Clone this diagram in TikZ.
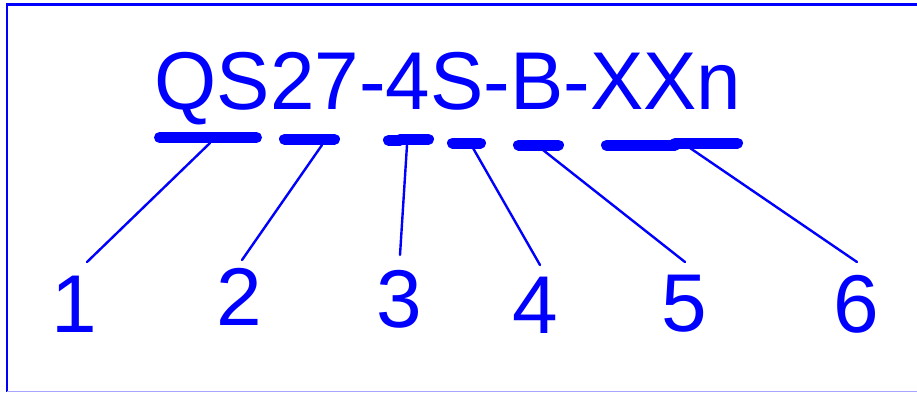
\documentclass[tikz,border=0pt]{standalone}
\usepackage{fontspec}
\setmainfont{Liberation Sans}
\begin{document}
\begin{tikzpicture}[x=1pt,y=-1pt,
  code/.style={text=blue, font=\fontsize{82}{90}\selectfont, inner sep=0pt, anchor=base},
  bar/.style={draw=blue, line width=11pt, line cap=round},
  lead/.style={draw=blue, line width=2.4pt, line cap=round}]
\useasboundingbox (0,0) rectangle (917,392);
\def\codey{109}
% frame
\draw[blue, line width=2.5pt] (922,4.5) -- (7,4.5) -- (7,392);
\draw[blue!35, line width=1pt] (7,391) -- (922,391);
% type code
\node[code, xscale=0.975] (title) at (448,\codey) {QS27-4S-B-XXn};
% points on the bars
\coordinate (c1) at (210,143);
\coordinate (c2) at (322,145);
\coordinate (c3) at (407,145);
\coordinate (c4) at (473,148);
\coordinate (c5) at (543,150);
\coordinate (c6) at (690,148);
% ends of the leads
\coordinate (t1) at (87,262);
\coordinate (t2) at (242,260);
\coordinate (t3) at (400,255);
\coordinate (t4) at (540,265);
\coordinate (t5) at (685,262);
\coordinate (t6) at (857,262);
\foreach \i in {1,...,6}
  \draw[lead] (c\i) -- (t\i);
% bars
\draw[bar] (159.5,137.5) -- (256.5,137.5);
\draw[bar] (284.5,139.2) -- (334.5,139.2);
\draw[bar] (388.5,140.2) -- (400,140.2);
\draw[bar] (400,139.2) -- (428.5,139.2);
\draw[bar] (452.5,143) -- (480.5,143);
\draw[bar] (518.5,145) -- (558.5,145);
\draw[bar] (606.5,145.3) -- (675,145.3);
\draw[bar] (675,143) -- (737.5,143);
% numbers
\node[code] (n1) at (74,332) {1};
\node[code] (n2) at (239,325) {2};
\node[code] (n3) at (399,327) {3};
\node[code] (n4) at (535,333) {4};
\node[code] (n5) at (684,331) {5};
\node[code] (n6) at (856,332) {6};
\end{tikzpicture}
\end{document}
